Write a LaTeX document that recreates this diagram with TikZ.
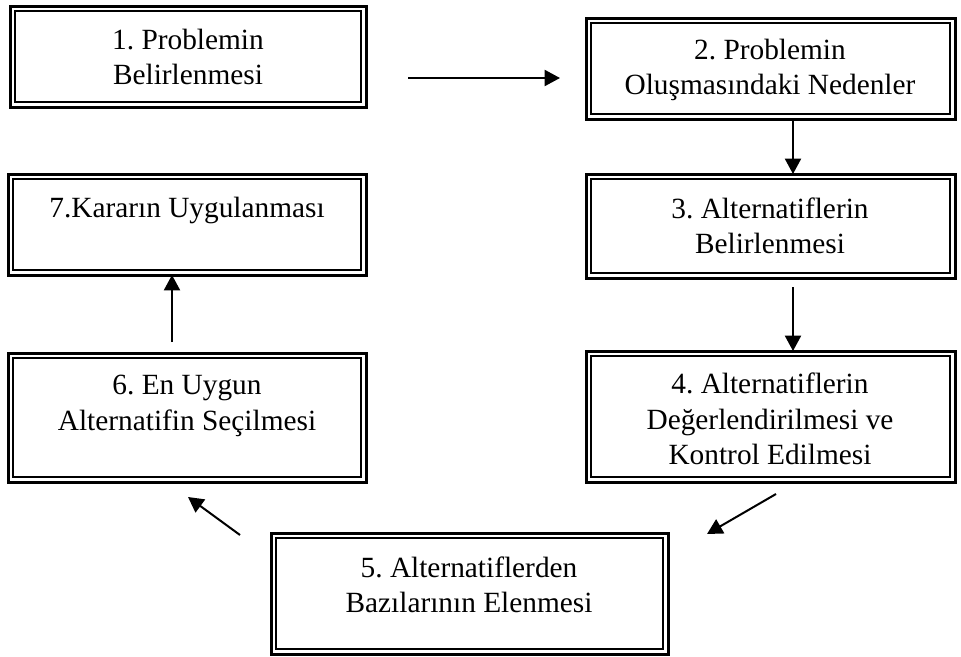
\documentclass[tikz,border=0pt]{standalone}
\usepackage{fontspec}
\setmainfont{Liberation Serif}
\usetikzlibrary{arrows.meta}
\frenchspacing
\begin{document}
\begin{tikzpicture}[x=0.75pt,y=-0.75pt,
  bx/.style 2 args={draw, rectangle, line width=2.25pt, inner sep=0pt, outer sep=0pt,
    minimum width=#1*0.75pt, minimum height=#2*0.75pt},
  innerline/.style={draw, line width=1.1pt},
  txt/.style={align=center, font=\fontsize{22}{26.5}\selectfont, inner sep=0pt},
  arr/.style={line width=1.5pt, -{Triangle[length=11.5pt,width=12pt]}}]
\path[use as bounding box, fill=white] (0,0) rectangle (961,657);
% boxes
\node[bx={356}{101}] (b1) at (188,56.5) {};
\node[bx={369}{101}] (b2) at (770.5,68.5) {};
\node[bx={369}{104}] (b3) at (770.5,226) {};
\node[bx={369}{131}] (b4) at (770.5,416.5) {};
\node[bx={397}{121}] (b5) at (469.5,593.5) {};
\node[bx={358}{129}] (b6) at (187,417.5) {};
\node[bx={358}{101}] (b7) at (187,224.5) {};
\foreach \n in {b1,b2,b3,b4,b5,b6,b7}
  \draw[innerline] ([shift={(5,5)}]\n.north west) rectangle ([shift={(-5,-5)}]\n.south east);
% texts
\node[txt] (t1) at (188,57) {1. Problemin\\Belirlenmesi};
\node[txt] (t2) at (770,70) {2. Problemin\\Oluşmasındaki Nedenler};
\node[txt] (t3) at (770,226) {3. Alternatiflerin\\Belirlenmesi};
\node[txt] (t4) at (770,419) {4. Alternatiflerin\\Değerlendirilmesi ve\\Kontrol Edilmesi};
\node[txt] (t5) at (469,585) {5. Alternatiflerden\\Bazılarının Elenmesi};
\node[txt] (t6) at (187,406) {6. En Uygun\\Alternatifin Seçilmesi};
\node[txt] (t7) at (187,210) {7.Kararın Uygulanması};
% connectors
\coordinate (a1s) at (408,78);
\coordinate (a1e) at (560,78);
\draw[arr] (a1s) -- (a1e);
\coordinate (x2) at (793,0);
\draw[arr] (x2 |- b2.south) -- (x2 |- b3.north);
\coordinate (a3s) at (793,287);
\draw[arr] (a3s) -- (a3s |- b4.north);
\coordinate (a4s) at (776,494);
\coordinate (a4e) at (707,534);
\draw[arr] (a4s) -- (a4e);
\coordinate (a5s) at (240,535);
\coordinate (a5e) at (188,497);
\draw[arr] (a5s) -- (a5e);
\coordinate (a6s) at (172,342);
\draw[arr] (a6s) -- (a6s |- b7.south);
\end{tikzpicture}
\end{document}
